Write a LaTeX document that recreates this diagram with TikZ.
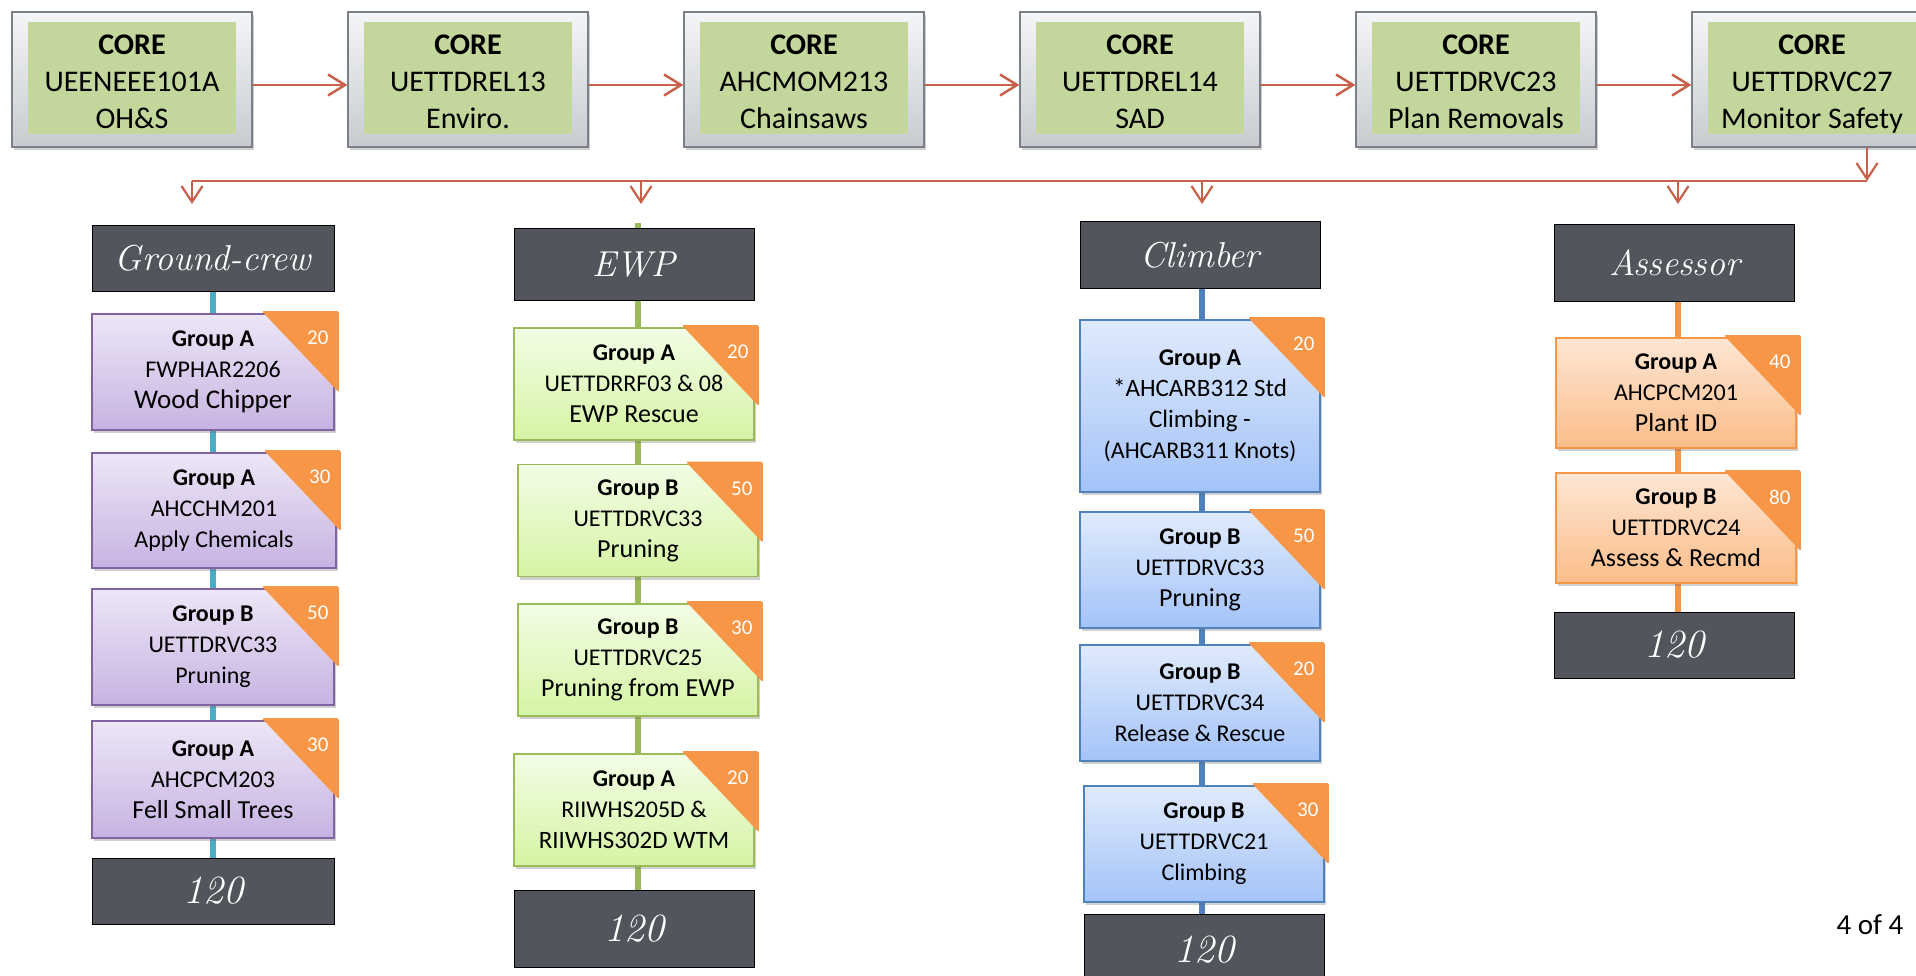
\documentclass[tikz,border=0pt]{standalone}
\usepackage{fontspec}
\newfontfamily\calfont{Carlito}
\usetikzlibrary{shadows,arrows.meta,backgrounds}
\definecolor{arr}{HTML}{C8614A}
\definecolor{coretop}{HTML}{F4F5F7}
\definecolor{corebot}{HTML}{C7CBD0}
\definecolor{coreline}{HTML}{7B8088}
\definecolor{coregreen}{HTML}{C3D69B}
\definecolor{hdrgray}{HTML}{52565C}
\definecolor{tagor}{HTML}{F79646}
\definecolor{pTop}{HTML}{EDE6F6}\definecolor{pBot}{HTML}{C7B3E2}\definecolor{pLine}{HTML}{8064A2}
\definecolor{gTop}{HTML}{F2FDE6}\definecolor{gBot}{HTML}{D5F4A4}\definecolor{gLine}{HTML}{9BBB59}
\definecolor{bTop}{HTML}{E0EAFC}\definecolor{bBot}{HTML}{A3C3F8}\definecolor{bLine}{HTML}{4F81BD}
\definecolor{oTop}{HTML}{FDE6D4}\definecolor{oBot}{HTML}{FBBD89}\definecolor{oLine}{HTML}{F79646}
\definecolor{gcline}{HTML}{4BACC6}
\newcommand\cardtag[2]{%
  \fill[tagtri] ([xshift=-73pt,yshift=2pt]#1.north east) -- ([xshift=4pt,yshift=2pt]#1.north east) -- ([xshift=4pt,yshift=-79pt]#1.north east) -- cycle;
  \node[tagnum] (#1n) at ([xshift=-17pt,yshift=-25pt]#1.north east) {#2};
}
\begin{document}
\begin{tikzpicture}[x=1pt,y=-1pt,
 shd/.style={drop shadow={shadow xshift=2pt,shadow yshift=-3pt,opacity=0.3,fill=black!60}},
 core/.style={draw=coreline,line width=1.2pt,top color=coretop,bottom color=corebot,minimum width=240pt,minimum height=135pt,inner sep=0pt,shd},
 coreinner/.style={fill=coregreen,minimum width=208pt,minimum height=112pt,inner sep=0pt},
 coretext/.style={inner sep=0pt,anchor=north,align=center,font=\calfont\fontsize{30}{37}\selectfont},
 flow/.style={draw=arr,line width=2.5pt,-{Straight Barb[length=17pt,width=21pt]}},
 drop/.style={draw=arr,line width=2.2pt,-{Straight Barb[length=16pt,width=21pt]}},
 hdrbox/.style={draw=black,line width=0.8pt,fill=hdrgray,text=white,inner sep=0pt,font=\itshape\fontsize{36}{40}\selectfont},
 card/.style={line width=1.6pt,inner sep=0pt,align=center,font=\calfont\fontsize{24}{31}\selectfont,shd},
 pcard/.style={card,draw=pLine,top color=pTop,bottom color=pBot,minimum width=242pt},
 gcard/.style={card,draw=gLine,top color=gTop,bottom color=gBot,minimum width=240pt},
 bcard/.style={card,draw=bLine,top color=bTop,bottom color=bBot,minimum width=240pt},
 ocard/.style={card,draw=oLine,top color=oTop,bottom color=oBot,minimum width=240pt},
 tagtri/.style={fill=tagor,rounded corners=1.5pt},
 tagnum/.style={text=white,font=\calfont\fontsize{21}{24}\selectfont,inner sep=0pt},
 vline/.style={line width=6pt}
]
\useasboundingbox (0,0) rectangle (1916,976);
\clip (0,0) rectangle (1916,976);

% ---------- core row ----------
\foreach \i/\x/\t in {1/132/{UEENEEE101A\\OH\&S},2/468/{UETTDREL13\\Enviro.},3/804/{AHCMOM213\\Chainsaws},4/1140/{UETTDREL14\\SAD},5/1476/{UETTDRVC23\\Plan Removals},6/1812/{UETTDRVC27\\Monitor Safety}}{
  \node[core] (c\i) at (\x,79.5) {};
  \node[coreinner] (c\i i) at (\x,78.5) {};
  \node[coretext] (c\i t) at (\x,34.5) {\textbf{CORE}\\\t};
}
\foreach \a/\b in {1/2,2/3,3/4,4/5,5/6}
  \draw[flow] ([yshift=-5.5pt]c\a.east) -- ([yshift=-5.5pt]c\b.west);

% bus
\coordinate (cs) at (1867,147);
\coordinate (busR) at (1867,181);
\coordinate (bus1) at (192,181);
\coordinate (bus2) at (641,181);
\coordinate (bus3) at (1202,181);
\coordinate (bus4) at (1678,181);
\coordinate (tip1) at (192,204);
\coordinate (tip2) at (641,204);
\coordinate (tip3) at (1202,204);
\coordinate (tip4) at (1678,204);
\draw[drop] (cs) -- (busR);
\draw[draw=arr,line width=2pt] (bus1) -- (busR);
\foreach \k in {1,2,3,4} \draw[drop] (bus\k) -- (tip\k);

% ---------- Ground-crew ----------
\node[hdrbox,minimum width=242pt,minimum height=66pt] (gh) at (213,258) {Ground-crew};
\node[pcard,minimum height=116pt] (g1) at (213,372) {\textbf{Group A}\\FWPHAR2206\\{\fontsize{27}{31}\selectfont Wood Chipper}};
\node[pcard,minimum height=115pt,minimum width=244pt] (g2) at (214,510.5) {\textbf{Group A}\\AHCCHM201\\Apply Chemicals};
\node[pcard,minimum height=116pt] (g3) at (213,647) {\textbf{Group B}\\UETTDRVC33\\Pruning};
\node[pcard,minimum height=117pt] (g4) at (213,779.5) {\textbf{Group A}\\AHCPCM203\\{\fontsize{26}{31}\selectfont Fell Small Trees}};
\node[hdrbox,minimum width=242pt,minimum height=66pt,font=\itshape\fontsize{40}{44}\selectfont] (gf) at (213,891) {120};
\cardtag{g1}{20}\cardtag{g2}{30}\cardtag{g3}{50}\cardtag{g4}{30}

% ---------- EWP ----------
\node[hdrbox,minimum width=240pt,minimum height=72pt] (eh) at (634,264.5) {EWP};
\node[gcard,minimum height=112pt] (e1) at (634,384) {\textbf{Group A}\\UETTDRRF03 \& 08\\{\fontsize{26}{31}\selectfont EWP Rescue}};
\node[gcard,minimum height=112pt] (e2) at (638,520.5) {\textbf{Group B}\\UETTDRVC33\\{\fontsize{26}{31}\selectfont Pruning}};
\node[gcard,minimum height=112pt] (e3) at (638,660) {\textbf{Group B}\\UETTDRVC25\\{\fontsize{26}{31}\selectfont Pruning from EWP}};
\node[gcard,minimum height=112pt] (e4) at (634,810) {\textbf{Group A}\\RIIWHS205D \&\\{\fontsize{25}{31}\selectfont RIIWHS302D WTM}};
\node[hdrbox,minimum width=240pt,minimum height=77pt,font=\itshape\fontsize{40}{44}\selectfont] (ef) at (634,929) {120};
\cardtag{e1}{20}\cardtag{e2}{50}\cardtag{e3}{30}\cardtag{e4}{20}

% ---------- Climber ----------
\node[hdrbox,minimum width=240pt,minimum height=67pt] (ch) at (1200,255) {Climber};
\node[bcard,minimum height=172pt] (k1) at (1200,406) {\textbf{Group A}\\{\fontsize{25}{31}\selectfont *AHCARB312 Std}\\{\fontsize{25}{31}\selectfont Climbing -}\\(AHCARB311 Knots)};
\node[bcard,minimum height=116pt] (k2) at (1200,570) {\textbf{Group B}\\UETTDRVC33\\{\fontsize{26}{31}\selectfont Pruning}};
\node[bcard,minimum height=116pt] (k3) at (1200,703) {\textbf{Group B}\\UETTDRVC34\\Release \& Rescue};
\node[bcard,minimum height=116pt] (k4) at (1204,844) {\textbf{Group B}\\UETTDRVC21\\Climbing};
\node[hdrbox,minimum width=240pt,minimum height=71pt,font=\itshape\fontsize{40}{44}\selectfont] (kf) at (1204,949.5) {120};
\cardtag{k1}{20}\cardtag{k2}{50}\cardtag{k3}{20}\cardtag{k4}{30}

% ---------- Assessor ----------
\node[hdrbox,minimum width=240pt,minimum height=77pt] (ah) at (1674.5,263) {Assessor};
\node[ocard,minimum height=110pt] (a1) at (1676,393) {\textbf{Group A}\\AHCPCM201\\{\fontsize{26}{31}\selectfont Plant ID}};
\node[ocard,minimum height=110pt] (a2) at (1676,528) {\textbf{Group B}\\UETTDRVC24\\{\fontsize{26}{31}\selectfont Assess \& Recmd}};
\node[hdrbox,minimum width=240pt,minimum height=66pt,font=\itshape\fontsize{40}{44}\selectfont] (af) at (1674.5,645) {120};
\cardtag{a1}{40}\cardtag{a2}{80}

\node[font=\calfont\fontsize{29}{34}\selectfont,inner sep=0pt] (pg) at (1870,925) {4 of 4};

% ---------- vertical spines ----------
\begin{scope}[on background layer]
  \fill[white] (0,0) rectangle (1916,976);
  \draw[vline,draw=gcline] (gh.center) -- (gf.center);
  \draw[vline,draw=gLine] ([xshift=4pt,yshift=5pt]eh.north) -- ([xshift=4pt]ef.center);
  \draw[vline,draw=bLine] ([xshift=2pt]ch.center) -- ([xshift=-2pt]kf.center);
  \draw[vline,draw=oLine] ([xshift=3.5pt]ah.center) -- ([xshift=3.5pt]af.center);
\end{scope}
\end{tikzpicture}
\end{document}
